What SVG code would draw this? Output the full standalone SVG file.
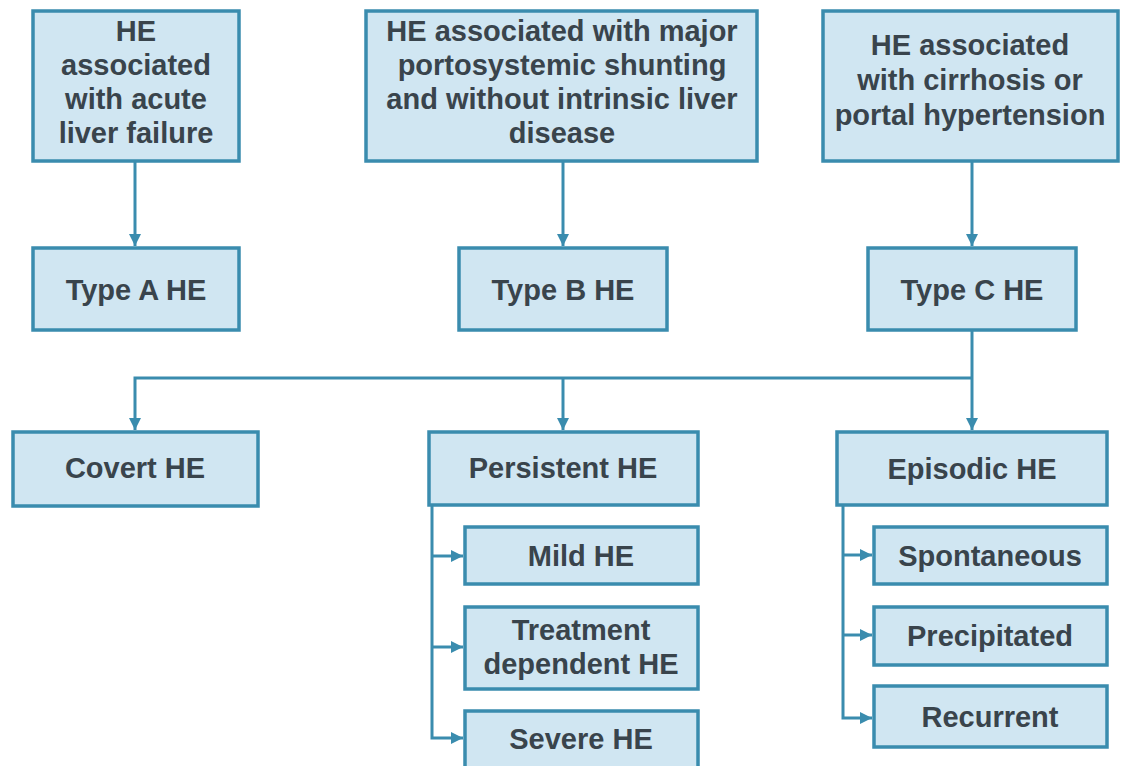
<svg xmlns="http://www.w3.org/2000/svg" width="1121" height="766" viewBox="0 0 1121 766">
<style>
.box{fill:#d0e6f2;stroke:#3a8cae;stroke-width:3.5}
.t{font-family:"Liberation Sans",Arial,sans-serif;font-weight:bold;font-size:29px;fill:#39444c;text-anchor:middle}
.c{fill:none;stroke:#3a8cae;stroke-width:3}
</style>
<defs>
<marker id="ah" viewBox="0 0 10 10" refX="10" refY="5" markerWidth="4" markerHeight="4" orient="auto" markerUnits="strokeWidth">
<path d="M0,0 L10,5 L0,10 z" fill="#3a8cae"/>
</marker>
</defs>
<rect width="1121" height="766" fill="#ffffff"/>
<g id="connectors">
<path class="c" d="M135,161 V246" marker-end="url(#ah)"/>
<path class="c" d="M563,161 V246" marker-end="url(#ah)"/>
<path class="c" d="M972,161 V246" marker-end="url(#ah)"/>
<path class="c" d="M972,330 V430" marker-end="url(#ah)"/>
<path class="c" d="M972,378 H135 V430" marker-end="url(#ah)"/>
<path class="c" d="M563,378 V430" marker-end="url(#ah)"/>
<path class="c" d="M432,505 V738 H463" marker-end="url(#ah)"/>
<path class="c" d="M432,556 H463" marker-end="url(#ah)"/>
<path class="c" d="M432,647 H463" marker-end="url(#ah)"/>
<path class="c" d="M843,505 V718 H872" marker-end="url(#ah)"/>
<path class="c" d="M843,555 H872" marker-end="url(#ah)"/>
<path class="c" d="M843,635 H872" marker-end="url(#ah)"/>
</g>
<g id="n-acute">
<rect class="box" x="33" y="11" width="206" height="150"/>
<text class="t" x="136" y="41">HE</text>
<text class="t" x="136" y="75">associated</text>
<text class="t" x="136" y="109">with acute</text>
<text class="t" x="136" y="143">liver failure</text>
</g>
<g id="n-shunt">
<rect class="box" x="366" y="11" width="391" height="150"/>
<text class="t" x="562" y="41">HE associated with major</text>
<text class="t" x="562" y="75">portosystemic shunting</text>
<text class="t" x="562" y="109">and without intrinsic liver</text>
<text class="t" x="562" y="143">disease</text>
</g>
<g id="n-cirrhosis">
<rect class="box" x="823" y="11" width="295" height="150"/>
<text class="t" x="970" y="55">HE associated</text>
<text class="t" x="970" y="90">with cirrhosis or</text>
<text class="t" x="970" y="125">portal hypertension</text>
</g>
<g id="n-typeA">
<rect class="box" x="33" y="248" width="206" height="82"/>
<text class="t" x="136" y="300">Type A HE</text>
</g>
<g id="n-typeB">
<rect class="box" x="459" y="248" width="208" height="82"/>
<text class="t" x="563" y="300">Type B HE</text>
</g>
<g id="n-typeC">
<rect class="box" x="868" y="248" width="208" height="82"/>
<text class="t" x="972" y="300">Type C HE</text>
</g>
<g id="n-covert">
<rect class="box" x="13" y="432" width="245" height="74"/>
<text class="t" x="135" y="478">Covert HE</text>
</g>
<g id="n-persistent">
<rect class="box" x="429" y="432" width="269" height="73"/>
<text class="t" x="563" y="478">Persistent HE</text>
</g>
<g id="n-episodic">
<rect class="box" x="837" y="432" width="270" height="73"/>
<text class="t" x="972" y="479">Episodic HE</text>
</g>
<g id="n-mild">
<rect class="box" x="465" y="527" width="233" height="57"/>
<text class="t" x="581" y="566">Mild HE</text>
</g>
<g id="n-treatment">
<rect class="box" x="465" y="607" width="233" height="82"/>
<text class="t" x="581" y="640">Treatment</text>
<text class="t" x="581" y="674">dependent HE</text>
</g>
<g id="n-severe">
<rect class="box" x="465" y="711" width="233" height="62"/>
<text class="t" x="581" y="749">Severe HE</text>
</g>
<g id="n-spontaneous">
<rect class="box" x="874" y="527" width="233" height="57"/>
<text class="t" x="990" y="566">Spontaneous</text>
</g>
<g id="n-precipitated">
<rect class="box" x="874" y="607" width="233" height="58"/>
<text class="t" x="990" y="646">Precipitated</text>
</g>
<g id="n-recurrent">
<rect class="box" x="874" y="686" width="233" height="61"/>
<text class="t" x="990" y="727">Recurrent</text>
</g>
</svg>
